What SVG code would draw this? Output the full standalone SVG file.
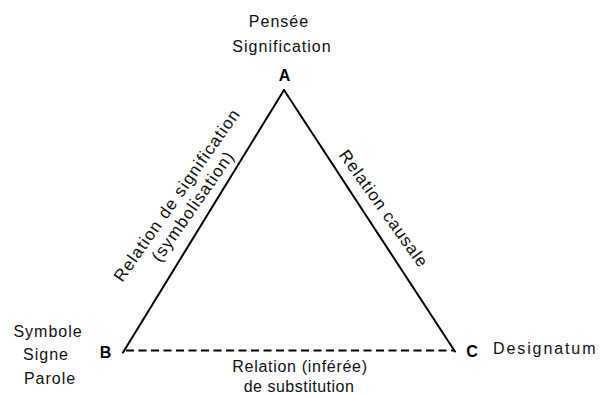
<svg xmlns="http://www.w3.org/2000/svg" width="603" height="396" viewBox="0 0 603 396">
<style>
.t{font-family:"Liberation Sans",Arial,Helvetica,sans-serif;font-size:16px;fill:#111;letter-spacing:1px}
.r{font-family:"Liberation Sans",Arial,Helvetica,sans-serif;font-size:17px;fill:#111;letter-spacing:1.1px}
.v{font-family:"Liberation Sans",Arial,Helvetica,sans-serif;font-size:16px;font-weight:bold;fill:#000}
.e{stroke:#000;stroke-width:2;fill:none;stroke-linecap:round}
.d{stroke:#000;stroke-width:2;fill:none;stroke-dasharray:8 4.5}
</style>
<rect width="603" height="396" fill="#fff"/>
<g id="connectors">
<line class="e" x1="123" y1="352.5" x2="284" y2="90"/>
<line class="e" x1="284" y1="90" x2="455" y2="351.5"/>
<line class="d" x1="126" y1="350.5" x2="455" y2="350.5"/>
<text class="r" text-anchor="middle" transform="translate(181.7 198.3) rotate(-55)">Relation de signification</text>
<text class="r" text-anchor="middle" transform="translate(197.5 209.5) rotate(-55)">(symbolisation)</text>
<text class="r" text-anchor="middle" transform="translate(379 212) rotate(54.5)" style="letter-spacing:0.9px">Relation causale</text>
<text class="t" text-anchor="middle" x="300" y="372" style="letter-spacing:0.7px">Relation (inférée)</text>
<text class="t" text-anchor="middle" x="299" y="392" style="letter-spacing:0.5px">de substitution</text>
</g>
<g id="nodeA">
<text class="v" text-anchor="middle" x="284.5" y="80.5">A</text>
<text class="t" text-anchor="middle" x="279" y="26.5">Pensée</text>
<text class="t" text-anchor="middle" x="282" y="52">Signification</text>
</g>
<g id="nodeB">
<text class="v" text-anchor="middle" x="105.5" y="358">B</text>
<text class="t" text-anchor="middle" x="48" y="336.5">Symbole</text>
<text class="t" text-anchor="middle" x="46" y="359.5">Signe</text>
<text class="t" text-anchor="middle" x="50" y="383.5">Parole</text>
</g>
<g id="nodeC">
<text class="v" text-anchor="middle" x="472" y="357">C</text>
<text class="t" x="493" y="354" style="letter-spacing:1.9px">Designatum</text>
</g>
</svg>
